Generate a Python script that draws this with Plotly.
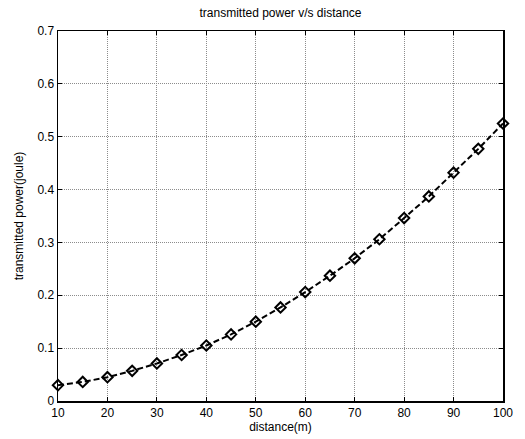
import plotly.graph_objects as go

distance = [10, 15, 20, 25, 30, 35, 40, 45, 50, 55, 60, 65, 70, 75, 80, 85, 90, 95, 100]
power = [0.030, 0.036, 0.045, 0.057, 0.071, 0.087, 0.105, 0.126, 0.150, 0.177, 0.206, 0.237, 0.270, 0.306, 0.346, 0.387, 0.432, 0.477, 0.525]
x_ticks = [10, 20, 30, 40, 50, 60, 70, 80, 90, 100]
y_ticks = [0, 0.1, 0.2, 0.3, 0.4, 0.5, 0.6, 0.7]
y_labels = ["0", "0.1", "0.2", "0.3", "0.4", "0.5", "0.6", "0.7"]

FONT = "Arial, Liberation Sans, sans-serif"

fig = go.Figure()
fig.add_trace(go.Scatter(
    x=distance, y=power, mode="lines+markers",
    line=dict(color="black", width=2, dash="6px,3px"),
    marker=dict(symbol="diamond-open", size=8, color="black", line=dict(width=2, color="black")),
    showlegend=False, cliponaxis=False,
))

axis_common = dict(
    showline=True, linecolor="black", linewidth=1.5, mirror="ticks",
    ticks="inside", ticklen=4, tickcolor="black", tickwidth=1,
    showgrid=True, gridcolor="#8c8c8c", griddash="1px,1px", gridwidth=1,
    zeroline=False, automargin=False,
    tickfont=dict(family=FONT, size=12, color="black"),
)

fig.update_xaxes(range=[10, 100], tickvals=x_ticks, ticklabelstandoff=0,
                 title=dict(text="distance(m)", standoff=3,
                            font=dict(family=FONT, size=12, color="black")), **axis_common)
fig.update_yaxes(range=[0, 0.7], tickvals=y_ticks, ticktext=y_labels,
                 title=dict(text="transmitted power(joule)", standoff=11,
                            font=dict(family=FONT, size=12, color="black")), **axis_common)

fig.update_layout(
    width=525, height=439,
    margin=dict(l=58, r=22, t=31, b=38),
    paper_bgcolor="white", plot_bgcolor="white",
    title=dict(text="transmitted power v/s distance", x=0.5, xanchor="center", xref="paper",
               y=1, yref="container", yanchor="top", pad=dict(t=9),
               font=dict(family=FONT, size=12, color="black")),
)

fig.write_html("out.html", config={"displayModeBar": False, "staticPlot": True},
               post_script="document.body.style.margin='0';document.body.style.overflow='hidden';")
